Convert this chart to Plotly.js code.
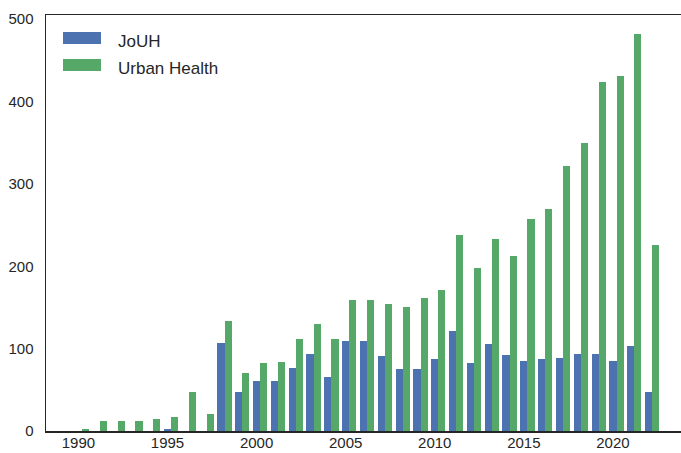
<!DOCTYPE html>
<html>
<head>
<meta charset="utf-8">
<script src="https://cdn.plot.ly/plotly-3.0.1.min.js"></script>
<style>html,body{margin:0;padding:0;background:#fff;}#chart{width:681px;height:453px;}</style>
</head>
<body>
<div id="chart"></div>
<script>
const years = [1990,1991,1992,1993,1994,1995,1996,1997,1998,1999,2000,2001,2002,2003,2004,2005,2006,2007,2008,2009,2010,2011,2012,2013,2014,2015,2016,2017,2018,2019,2020,2021,2022];
const jouh = [0,0,0,0,0,3,0,0,107,47,61,61,77,93,66,109,109,91,75,75,87,122,82,106,92,85,87,89,94,94,85,103,47];
const urbanHealth = [2,12,12,12,14,17,47,21,133,71,82,84,112,130,112,159,159,154,150,161,171,238,198,233,212,257,270,322,350,424,431,482,226];
const seriesNames = ["JoUH", "Urban Health"];
const seriesColors = ["#4C72B0", "#55A868"];
const xTicks = [1990,1995,2000,2005,2010,2015,2020];
const yTicks = [0,100,200,300,400,500];

const W = 681, H = 453;
const M = {l: 46, r: 0, t: 15, b: 22};
const pw = W - M.l - M.r, ph = H - M.t - M.b;
const px2x = p => (p - M.l) / pw;
const py2y = p => (H - M.b - p) / ph;

const textColor = "#262626";
const fontFam = "Liberation Sans, Arial, sans-serif";

const traces = [
  {type: "bar", x: years, y: jouh, name: seriesNames[0], width: 0.4, offset: -0.2,
   marker: {color: seriesColors[0], line: {width: 0}}, hoverinfo: "x+y"},
  {type: "bar", x: years, y: urbanHealth, name: seriesNames[1], width: 0.4, offset: 0.2,
   marker: {color: seriesColors[1], line: {width: 0}}, hoverinfo: "x+y"}
];

// custom legend (matplotlib-style wide patches)
const legendShapes = [];
const legendAnn = [];
const legY = [38, 65];
for (let i = 0; i < 2; i++) {
  legendShapes.push({type: "rect", xref: "paper", yref: "paper",
    x0: px2x(63), x1: px2x(101), y0: py2y(legY[i] + 6), y1: py2y(legY[i] - 6),
    fillcolor: seriesColors[i], line: {width: 0}});
  legendAnn.push({xref: "paper", yref: "paper", x: px2x(116), y: py2y(legY[i] + 3),
    xanchor: "left", yanchor: "middle", showarrow: false, text: seriesNames[i],
    font: {family: fontFam, size: 17, color: textColor}});
}

const layout = {
  width: W, height: H,
  margin: M,
  paper_bgcolor: "#fff", plot_bgcolor: "#fff",
  barmode: "overlay",
  bargap: 0,
  showlegend: false,
  font: {family: fontFam, size: 16, color: textColor},
  xaxis: {
    range: [1988.18, 2023.82],
    tickmode: "array", tickvals: xTicks, ticktext: xTicks.map(String),
    showgrid: false, zeroline: false,
    showline: true, linecolor: "#262626", linewidth: 1.5, mirror: true,
    ticks: "", ticklabelstandoff: -3,
    tickfont: {family: fontFam, size: 15, color: textColor}
  },
  yaxis: {
    range: [0, 505],
    tickmode: "array", tickvals: yTicks, ticktext: yTicks.map(String),
    showgrid: false, zeroline: false,
    showline: true, linecolor: "#262626", linewidth: 1.5,
    ticks: "", ticklabelstandoff: 8,
    tickfont: {family: fontFam, size: 15, color: textColor}
  },
  shapes: legendShapes,
  annotations: legendAnn
};

Plotly.newPlot("chart", traces, layout, {displayModeBar: false, staticPlot: true});
</script>
</body>
</html>
